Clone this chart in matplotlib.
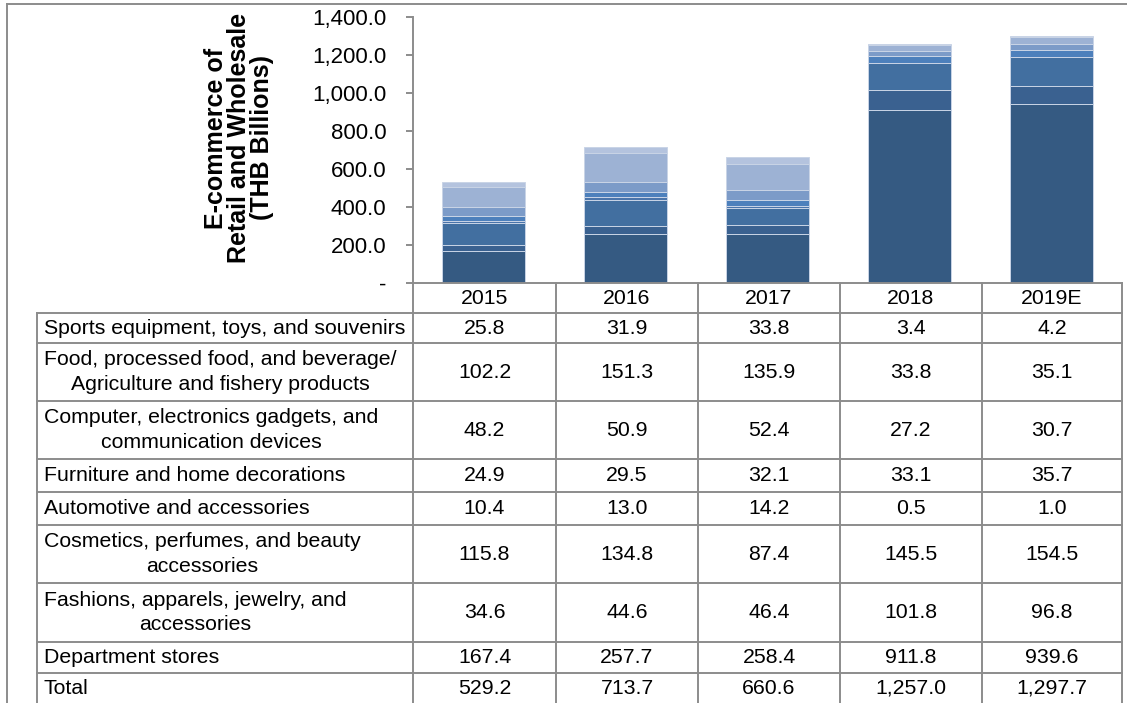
import matplotlib
matplotlib.use("Agg")
import matplotlib.pyplot as plt
from matplotlib.ticker import FuncFormatter

plt.rcParams["font.family"] = ["Liberation Sans", "DejaVu Sans"]

years = ["2015", "2016", "2017", "2018", "2019E"]

# table order (top to bottom); bars are stacked in reverse order
labels = [
    "Sports equipment, toys, and souvenirs",
    "Food, processed food, and beverage/\nAgriculture and fishery products",
    "Computer, electronics gadgets, and\ncommunication devices",
    "Furniture and home decorations",
    "Automotive and accessories",
    "Cosmetics, perfumes, and beauty\naccessories",
    "Fashions, apparels, jewelry, and\naccessories",
    "Department stores",
]
sports = [25.8, 31.9, 33.8, 3.4, 4.2]
food = [102.2, 151.3, 135.9, 33.8, 35.1]
computer = [48.2, 50.9, 52.4, 27.2, 30.7]
furniture = [24.9, 29.5, 32.1, 33.1, 35.7]
automotive = [10.4, 13.0, 14.2, 0.5, 1.0]
cosmetics = [115.8, 134.8, 87.4, 145.5, 154.5]
fashions = [34.6, 44.6, 46.4, 101.8, 96.8]
department = [167.4, 257.7, 258.4, 911.8, 939.6]
totals = [529.2, 713.7, 660.6, 1257.0, 1297.7]

series = [sports, food, computer, furniture, automotive, cosmetics, fashions, department]
colors = ["#b4c3de", "#9db2d4", "#7c9bc8", "#4d80bc", "#4a74aa", "#426fa0", "#3a6190", "#355a82"]

W, H = 1127, 703
fig = plt.figure(figsize=(W / 100, H / 100), dpi=100)
grey = "#8c8c8c"


def fr(x0, y0, x1, y1):
    # pixel box (top-left origin) -> figure fraction rect
    return [x0 / W, 1 - y1 / H, (x1 - x0) / W, (y1 - y0) / H]


# background axes in pixel coordinates for the frame and the table
tab = fig.add_axes([0, 0, 1, 1])
tab.set_xlim(0, W)
tab.set_ylim(H, 0)
tab.axis("off")

# bar chart
ax = fig.add_axes(fr(413, 17, 1122, 283))
bottom = [0.0] * len(years)
for vals, c in zip(series[::-1], colors[::-1]):
    ax.bar(range(len(years)), vals, width=0.585, bottom=bottom, color=c,
           edgecolor="#c9d4e6", linewidth=0.7)
    bottom = [b + v for b, v in zip(bottom, vals)]

ax.set_xlim(-0.5, len(years) - 0.5)
ax.set_ylim(0, 1400)
ax.set_yticks(range(0, 1401, 200))
ax.yaxis.set_major_formatter(FuncFormatter(lambda v, p: "-" if v == 0 else f"{v:,.1f}"))
ax.tick_params(axis="y", length=5, width=1.4, color=grey, pad=14, labelsize=16)
ax.set_xticks([])
for s in ["top", "right"]:
    ax.spines[s].set_visible(False)
for s in ["left", "bottom"]:
    ax.spines[s].set_color(grey)
    ax.spines[s].set_linewidth(1.4)
ax.patch.set_alpha(0)

fig.text(239 / W, 1 - 138 / H, "E-commerce of\nRetail and Wholesale\n(THB Billions)",
         rotation=90, ha="center", va="center", multialignment="center",
         fontsize=18, fontweight="bold", linespacing=0.97)

# outer frame
tab.plot([7, 7], [4, H], color=grey, lw=1.4)
tab.plot([7, W], [4, 4], color=grey, lw=1.4)

# data table
col_x = [37, 413, 556, 698, 840, 982, 1122]
row_h = [30, 58, 58, 33, 33, 58, 59, 31, 31]
row_y = [313]
for h in row_h:
    row_y.append(row_y[-1] + h)

# header
for x in col_x[1:]:
    tab.plot([x, x], [283, 313], color=grey, lw=1.4)
for j, yr in enumerate(years):
    xc = (col_x[j + 1] + col_x[j + 2]) / 2
    tab.text(xc, 298, yr, ha="center", va="center", fontsize=15.3)

for y in row_y:
    tab.plot([col_x[0], col_x[-1]], [y, y], color=grey, lw=1.4)
for x in col_x:
    tab.plot([x, x], [row_y[0], row_y[-1]], color=grey, lw=1.4)

rows = list(zip(labels, series)) + [("Total", totals)]
for i, (lab, vals) in enumerate(rows):
    yc = (row_y[i] + row_y[i + 1]) / 2
    tab.text(44, yc, lab, ha="left", va="center", multialignment="center",
             fontsize=15.3, linespacing=1.35)
    for j, v in enumerate(vals):
        xc = (col_x[j + 1] + col_x[j + 2]) / 2
        tab.text(xc, yc, f"{v:,.1f}", ha="center", va="center", fontsize=15.3)

fig.savefig("out.png", dpi=100)
